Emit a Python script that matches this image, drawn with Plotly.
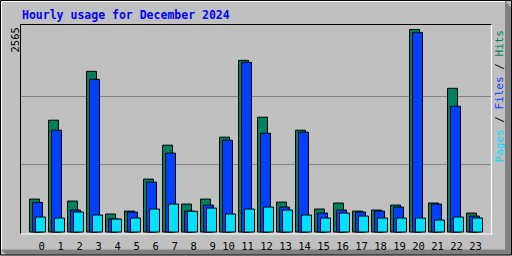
import plotly.graph_objects as go

hours = list(range(24))
hour_labels = [str(h) for h in hours]
hits = [417, 1416, 392, 2035, 228, 265, 670, 1100, 354, 417, 1201, 2174,
        1454, 379, 1289, 291, 367, 265, 278, 341, 2565, 367, 1820, 240]
files = [375, 1289, 278, 1934, 167, 253, 632, 999, 265, 341, 1163, 2149,
         1251, 316, 1264, 240, 278, 253, 265, 316, 2528, 354, 1593, 202]
pages = [190, 177, 253, 215, 164, 177, 291, 354, 262, 303, 228, 291,
         316, 278, 215, 177, 240, 202, 177, 177, 177, 152, 190, 177]

title_text = "Hourly usage for December 2024"
c_hits = "#00805C"
c_files = "#0040FF"
c_pages = "#00E0FF"
bg = "#C0C0C0"

W, H = 512, 256
L, R, T, B = 21, 491, 25, 234.5
pw, ph = R - L, B - T
px_per_hour = 19.0
bar_w = 10.0 / px_per_hour

ymax = max(hits)
scale = ymax / (232.5 - 29.5)  # value per pixel
y_lo = -(B - 232.5) * scale
y_hi = (232.5 - T) * scale

x0 = -(37.5 - L) / px_per_hour
x1 = x0 + pw / px_per_hour

fig = go.Figure()
for vals, col, off in [(hits, c_hits, -8.0), (files, c_files, -5.0), (pages, c_pages, -2.0)]:
    fig.add_trace(go.Bar(
        x=hours, y=vals, width=bar_w, offset=off / px_per_hour,
        marker=dict(color=col, line=dict(color="black", width=1)),
        hoverinfo="y"))

def X(px):
    return (px - L) / pw

def Y(py):
    return 1 - (py - T) / ph

shapes = []
# outer frame
shapes.append(dict(type="path", xref="paper", yref="paper",
                   path=f"M {X(505)},{Y(1)} L {X(511)},{Y(7)} L {X(511)},{Y(255)} L {X(505)},{Y(255)} Z",
                   fillcolor="#808080", line=dict(width=0), layer="below"))
shapes.append(dict(type="path", xref="paper", yref="paper",
                   path=f"M {X(1)},{Y(250)} L {X(506)},{Y(250)} L {X(511)},{Y(255)} L {X(6)},{Y(255)} Z",
                   fillcolor="#808080", line=dict(width=0), layer="below"))
shapes.append(dict(type="rect", xref="paper", yref="paper",
                   x0=X(0.5), x1=X(511.5), y0=Y(0.5), y1=Y(255.5),
                   line=dict(color="black", width=1), layer="below"))
shapes.append(dict(type="line", xref="paper", yref="paper",
                   x0=X(1.5), x1=X(505), y0=Y(1.5), y1=Y(1.5),
                   line=dict(color="white", width=1), layer="below"))
shapes.append(dict(type="line", xref="paper", yref="paper",
                   x0=X(1.5), x1=X(1.5), y0=Y(1.5), y1=Y(250),
                   line=dict(color="white", width=1), layer="below"))
# plot frame
shapes.append(dict(type="line", xref="paper", yref="paper",
                   x0=X(20), x1=X(492), y0=Y(24.5), y1=Y(24.5),
                   line=dict(color="black", width=1)))
shapes.append(dict(type="line", xref="paper", yref="paper",
                   x0=X(20.5), x1=X(20.5), y0=Y(24.5), y1=Y(235),
                   line=dict(color="black", width=1)))
shapes.append(dict(type="line", xref="paper", yref="paper",
                   x0=X(20), x1=X(492), y0=Y(234.5), y1=Y(234.5),
                   line=dict(color="white", width=1.2)))
shapes.append(dict(type="line", xref="paper", yref="paper",
                   x0=X(491.5), x1=X(491.5), y0=Y(24.5), y1=Y(235),
                   line=dict(color="white", width=1.2)))

annotations = [
    dict(text=f"<b>{title_text}</b>", xref="paper", yref="paper", x=X(20), y=Y(15),
         xanchor="left", yanchor="middle", showarrow=False,
         font=dict(family="DejaVu Sans Mono", size=11.5, color="#0000FF")),
    dict(text=str(ymax), xref="paper", yref="paper", x=X(15), y=Y(26),
         xanchor="center", yanchor="top", textangle=-90, showarrow=False,
         font=dict(family="DejaVu Sans Mono", size=10.5, color="black")),
    dict(text=(f"<span style='color:{c_pages}'>Pages</span> / "
               f"<span style='color:{c_files}'>Files</span> / "
               f"<span style='color:{c_hits}'>Hits</span>"),
         xref="paper", yref="paper", x=X(499), y=Y(28),
         xanchor="center", yanchor="top", textangle=-90, showarrow=False,
         font=dict(family="DejaVu Sans Mono", size=11, color="black")),
]

tick_text = [("&nbsp;" + s) if len(s) == 1 else s for s in hour_labels]

fig.update_layout(
    width=W, height=H, margin=dict(l=L, r=W - R, t=T, b=H - B, pad=0, autoexpand=False),
    paper_bgcolor=bg, plot_bgcolor=bg, barmode="overlay", showlegend=False,
    shapes=shapes, annotations=annotations,
    xaxis=dict(range=[x0, x1], tickvals=hours, ticktext=tick_text, automargin=False,
               showgrid=False, zeroline=False, showline=False,
               ticks="outside", ticklen=2, tickcolor=bg, ticklabelshift=1,
               tickfont=dict(family="DejaVu Sans Mono", size=10.5, color="black")),
    yaxis=dict(range=[y_lo, y_hi], tickvals=[ymax / 3, 2 * ymax / 3], automargin=False,
               showticklabels=False, showgrid=True, gridcolor="#808080", gridwidth=1,
               zeroline=False, showline=False, ticks=""),
)

fig.write_html("out.html")
